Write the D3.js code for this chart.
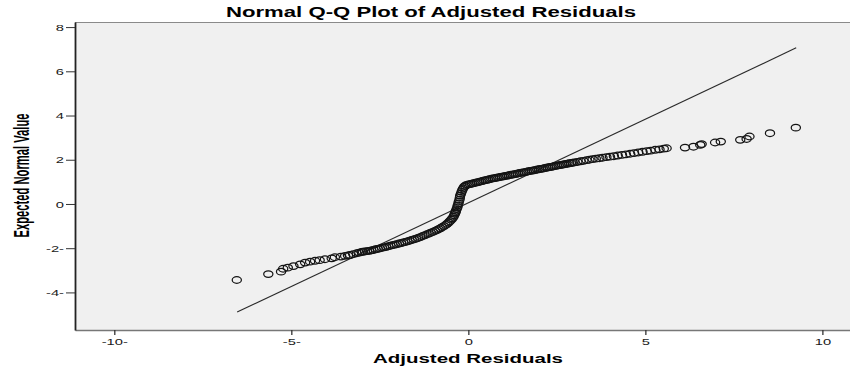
<!DOCTYPE html>
<html>
<head>
<meta charset="utf-8">
<script src="https://cdn.jsdelivr.net/npm/d3@7"></script>
<style>
  body { margin: 0; background: #fff; }
  svg { display: block; font-family: 'Liberation Sans', Arial, sans-serif; }
</style>
</head>
<body>
<div id="chart"></div>
<script>
// axis ticks as printed (SPSS leaves a trailing dash on the negatives)
const xTicks = [-10, -5, 0, 5, 10];
const xTickLabels = ['-10-', '-5-', '0', '5', '10'];
const yTicks = [8, 6, 4, 2, 0, -2, -4];
const yTickLabels = ['8', '6', '4', '2', '0', '-2-', '-4-'];

// normal reference line end points [residual, expected]
const refLine = [[-6.53, -4.89], [9.26, 7.06]];

// points: [adjusted residual, expected normal value]
const lowerTail = [
  [-6.54, -3.44], [-5.65, -3.17], [-5.29, -3.06], [-5.23, -2.93], [-5.10, -2.88],
  [-4.94, -2.81], [-4.75, -2.73], [-4.61, -2.65], [-4.47, -2.61], [-4.33, -2.57],
  [-4.20, -2.54], [-4.05, -2.50], [-3.86, -2.46], [-3.77, -2.41], [-3.60, -2.38],
  [-3.48, -2.35], [-3.40, -2.33], [-3.34, -2.31], [-3.25, -2.27], [-3.15, -2.23],
  [-3.08, -2.20], [-3.01, -2.17]
];

const lowerBand = [
  [-2.98, -2.16], [-2.92, -2.15], [-2.86, -2.13], [-2.80, -2.12], [-2.74, -2.10],
  [-2.68, -2.08], [-2.62, -2.05], [-2.56, -2.03], [-2.50, -2.01], [-2.44, -1.98],
  [-2.38, -1.96], [-2.32, -1.94], [-2.26, -1.91], [-2.20, -1.89], [-2.14, -1.86],
  [-2.08, -1.84], [-2.02, -1.82], [-1.96, -1.79], [-1.90, -1.77], [-1.84, -1.74],
  [-1.78, -1.72], [-1.72, -1.69], [-1.66, -1.66], [-1.60, -1.63], [-1.54, -1.60],
  [-1.48, -1.57], [-1.42, -1.54], [-1.36, -1.50], [-1.30, -1.46], [-1.24, -1.42],
  [-1.18, -1.38], [-1.12, -1.34], [-1.06, -1.30], [-1.00, -1.26], [-0.94, -1.22],
  [-0.89, -1.18]
];

const steepBand = [
  [-0.84, -1.14], [-0.79, -1.10], [-0.74, -1.05], [-0.69, -1.00], [-0.64, -0.95],
  [-0.60, -0.90], [-0.56, -0.84], [-0.52, -0.78], [-0.48, -0.71], [-0.45, -0.65],
  [-0.42, -0.58], [-0.40, -0.51], [-0.38, -0.44], [-0.36, -0.38], [-0.35, -0.31],
  [-0.33, -0.23], [-0.31, -0.15], [-0.30, -0.07], [-0.28, 0.02], [-0.27, 0.10],
  [-0.25, 0.19], [-0.24, 0.28], [-0.23, 0.38], [-0.21, 0.46], [-0.19, 0.55],
  [-0.17, 0.63], [-0.15, 0.70], [-0.12, 0.77], [-0.09, 0.82], [-0.05, 0.86]
];

const upperBand = [
  [0.00, 0.88], [0.05, 0.90], [0.10, 0.92], [0.15, 0.94], [0.20, 0.96],
  [0.25, 0.98], [0.30, 1.00], [0.35, 1.02], [0.40, 1.04], [0.45, 1.06],
  [0.50, 1.08], [0.55, 1.10], [0.60, 1.12], [0.65, 1.14], [0.70, 1.16],
  [0.75, 1.17], [0.80, 1.19], [0.85, 1.20], [0.90, 1.22], [0.95, 1.24],
  [1.00, 1.25], [1.05, 1.27], [1.10, 1.28], [1.15, 1.30], [1.20, 1.32],
  [1.25, 1.33], [1.30, 1.35], [1.35, 1.36], [1.40, 1.38], [1.45, 1.40],
  [1.50, 1.41], [1.55, 1.43], [1.60, 1.44], [1.65, 1.46], [1.70, 1.48],
  [1.75, 1.49], [1.80, 1.51], [1.85, 1.52], [1.90, 1.54], [1.95, 1.56],
  [2.00, 1.57], [2.05, 1.59], [2.10, 1.60], [2.15, 1.62], [2.20, 1.64],
  [2.25, 1.65], [2.30, 1.67], [2.35, 1.68], [2.40, 1.70], [2.45, 1.72],
  [2.50, 1.73], [2.55, 1.75], [2.60, 1.76], [2.65, 1.78], [2.70, 1.79],
  [2.75, 1.81], [2.80, 1.82], [2.85, 1.84], [2.90, 1.85], [2.95, 1.87],
  [3.00, 1.88], [3.08, 1.90], [3.17, 1.93], [3.25, 1.95], [3.34, 1.98],
  [3.42, 2.00], [3.51, 2.03], [3.60, 2.05], [3.70, 2.07], [3.79, 2.09],
  [3.90, 2.12], [4.00, 2.14], [4.11, 2.16], [4.22, 2.19], [4.34, 2.22],
  [4.45, 2.24], [4.57, 2.27], [4.68, 2.30], [4.80, 2.33], [4.92, 2.36],
  [5.04, 2.39], [5.15, 2.41], [5.28, 2.45], [5.40, 2.47], [5.52, 2.50]
];

const upperTail = [
  [5.60, 2.52], [6.12, 2.55], [6.36, 2.59], [6.55, 2.67], [6.59, 2.71],
  [6.97, 2.78], [7.13, 2.82], [7.68, 2.90], [7.86, 2.94], [7.94, 3.05],
  [8.52, 3.20], [9.25, 3.45]
];

const points = [...lowerTail, ...lowerBand, ...steepBand, ...upperBand, ...upperTail];

const width = 850;
const height = 371;
const plot = { left: 75, right: 850, top: 22, bottom: 330 };
// the original picture is stretched sideways, text too
const stretch = 1.55;

const x = d3.scaleLinear().domain([-11.11, 10.78]).range([plot.left, plot.right]);
const y = d3.scaleLinear().domain([-5.70, 8.23]).range([plot.bottom, plot.top]);

const svg = d3.select('#chart')
  .append('svg')
  .attr('width', width)
  .attr('height', height);

svg.append('rect')
  .attr('x', plot.left)
  .attr('y', plot.top)
  .attr('width', plot.right - plot.left)
  .attr('height', plot.bottom - plot.top)
  .attr('fill', '#f0f0f0');

// frame
svg.append('line')
  .attr('x1', plot.left).attr('x2', plot.right)
  .attr('y1', plot.top + 0.5).attr('y2', plot.top + 0.5)
  .attr('stroke', '#8a8a8a').attr('stroke-width', 1.2);

const xAxis = svg.append('g')
  .attr('transform', `translate(0,${plot.bottom})`)
  .call(d3.axisBottom(x)
    .tickValues(xTicks)
    .tickFormat((d, i) => xTickLabels[i])
    .tickSize(5)
    .tickPadding(3)
    .tickSizeOuter(0));

xAxis.select('.domain').attr('stroke', '#777').attr('stroke-width', 1.6);
xAxis.selectAll('.tick line').attr('stroke', '#333').attr('stroke-width', 1.3);
xAxis.selectAll('.tick text')
  .attr('fill', '#1a1a1a')
  .attr('font-size', 9.5)
  .attr('font-family', "'Liberation Sans', Arial, sans-serif")
  .attr('transform', `scale(${stretch},1)`);

const yAxis = svg.append('g')
  .attr('transform', `translate(${plot.left},0)`)
  .call(d3.axisLeft(y)
    .tickValues(yTicks)
    .tickFormat((d, i) => yTickLabels[i])
    .tickSize(9)
    .tickPadding(3)
    .tickSizeOuter(0));

yAxis.select('.domain').attr('stroke', '#222').attr('stroke-width', 1.8);
yAxis.selectAll('.tick line').attr('stroke', '#333').attr('stroke-width', 1);
yAxis.selectAll('.tick text')
  .attr('fill', '#1a1a1a')
  .attr('font-size', 9.5)
  .attr('font-family', "'Liberation Sans', Arial, sans-serif")
  .attr('x', -11 / stretch)
  .attr('transform', `scale(${stretch},1)`);

// reference line
svg.append('line')
  .attr('x1', x(refLine[0][0])).attr('y1', y(refLine[0][1]))
  .attr('x2', x(refLine[1][0])).attr('y2', y(refLine[1][1]))
  .attr('stroke', '#2a2a2a')
  .attr('stroke-width', 1.1);

svg.append('g')
  .selectAll('ellipse')
  .data(points)
  .enter()
  .append('ellipse')
  .attr('cx', (d) => x(d[0]))
  .attr('cy', (d) => y(d[1]))
  .attr('rx', 4.6)
  .attr('ry', 3.3)
  .attr('fill', 'none')
  .attr('stroke', '#141414')
  .attr('stroke-width', 1.25);

// titles
svg.append('text')
  .attr('x', 431)
  .attr('y', 17)
  .attr('text-anchor', 'middle')
  .attr('font-size', 14)
  .attr('font-weight', 'bold')
  .attr('textLength', 410)
  .attr('lengthAdjust', 'spacingAndGlyphs')
  .text('Normal Q-Q Plot of Adjusted Residuals');

svg.append('text')
  .attr('x', 468)
  .attr('y', 363)
  .attr('text-anchor', 'middle')
  .attr('font-size', 13)
  .attr('font-weight', 'bold')
  .attr('textLength', 190)
  .attr('lengthAdjust', 'spacingAndGlyphs')
  .text('Adjusted Residuals');

svg.append('text')
  .attr('transform', `translate(29,175.5) scale(1.45,1) rotate(-90)`)
  .attr('text-anchor', 'middle')
  .attr('font-size', 15)
  .attr('font-weight', 'bold')
  .attr('textLength', 124)
  .attr('lengthAdjust', 'spacingAndGlyphs')
  .text('Expected Normal Value');
</script>
</body>
</html>
